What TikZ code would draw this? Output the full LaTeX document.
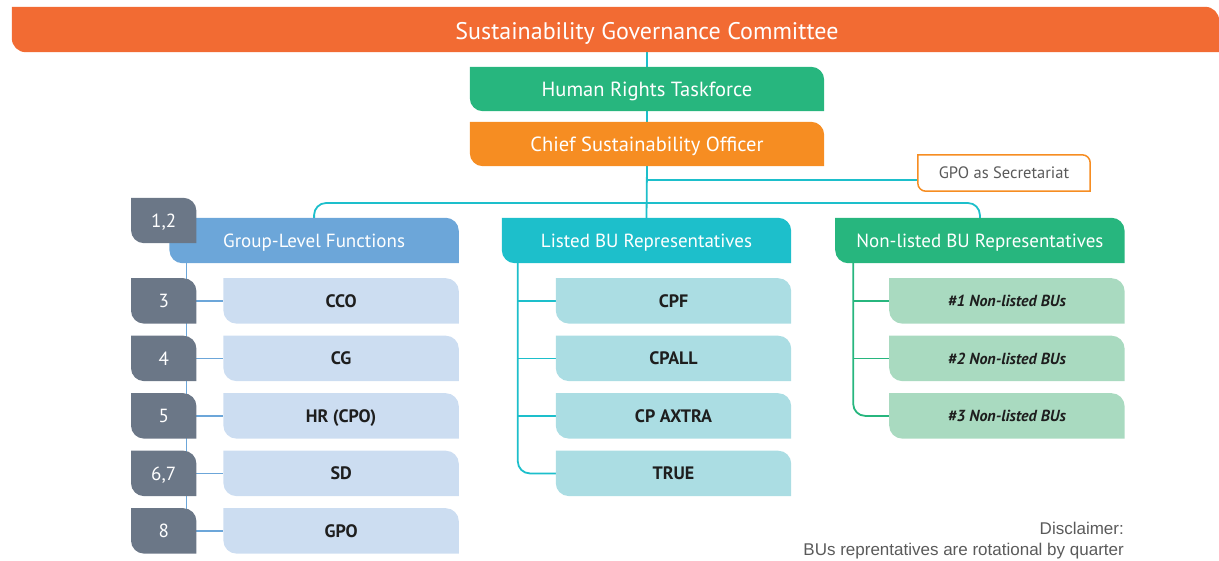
\documentclass[tikz,border=0pt]{standalone}
\usepackage{fontspec}
\setmainfont{PT Sans}
\newfontfamily\notefont{Liberation Sans}
\usetikzlibrary{calc,positioning,backgrounds}

\definecolor{sgcorange}{HTML}{F26B33}
\definecolor{taskgreen}{HTML}{27B67E}
\definecolor{csoorange}{HTML}{F68D22}
\definecolor{grpblue}{HTML}{6CA6D9}
\definecolor{grplight}{HTML}{CCDDF1}
\definecolor{lstteal}{HTML}{1DBFCB}
\definecolor{lstlight}{HTML}{ABDDE3}
\definecolor{nllight}{HTML}{A9DAC0}
\definecolor{badgegray}{HTML}{6B7787}
\definecolor{textdark}{HTML}{1E1E1E}
\definecolor{notegray}{HTML}{5A5A5A}

% box with rounded top right and bottom left corners
\newcommand{\leaf}[3][13]{%
  \fill[#3] (#2.north west) -- ([xshift=-#1pt]#2.north east)
    arc[start angle=90,end angle=0,radius=#1pt] -- (#2.south east)
    -- ([xshift=#1pt]#2.south west)
    arc[start angle=270,end angle=180,radius=#1pt] -- cycle;}

\begin{document}
\begin{tikzpicture}[x=1pt, y=1pt,
    caps/.style={text height=#1, text depth=0pt},
    box/.style={caps=13.3pt, minimum width=289pt, minimum height=45pt, inner sep=0pt,
      text=white, font=\fontsize{19}{22}\selectfont},
    kid/.style={caps=12.6pt, minimum width=235pt, minimum height=45pt, inner sep=0pt,
      text=textdark, font=\fontsize{18}{21}\selectfont\bfseries},
    badge/.style={caps=13.3pt, minimum width=65pt, minimum height=45pt, inner sep=0pt,
      text=white, font=\fontsize{19}{22}\selectfont},
    link/.style={line width=1.8pt, lstteal}]
                \useasboundingbox (0,0) rectangle (1219,-560);
                % top of the tree
                \node[minimum width=1207pt, minimum height=45pt, inner sep=0pt] (sgc) at (615.5,-29.5) {};
                \node[caps=16.8pt, text=white, font=\fontsize{24}{28}\selectfont] (sgctitle) at (647,-31) {Sustainability Governance Committee};
                \node[box, caps=14.4pt, minimum width=354pt, minimum height=44pt, font=\fontsize{20.5}{24}\selectfont] (hrt) at (647,-89) {Human Rights Taskforce};
                \node[box, caps=14.4pt, minimum width=354pt, minimum height=44pt, font=\fontsize{20.5}{24}\selectfont] (cso) at (647,-144) {Chief Sustainability Officer};
                \node[caps=11.6pt, minimum width=172pt, minimum height=36pt, inner sep=0pt, text=notegray,
                  font=\fontsize{16.5}{19}\selectfont] (gpo) at (1004,-173) {GPO as Secretariat};
                \coordinate (gpolink) at ([yshift=-7pt]gpo.west);
                % three branches
                \node[box] (lst) at (646.5,-240.5) {Listed BU Representatives};
                \node[box, left=43pt of lst] (grp) {Group-Level Functions};
                \node[box, right=44pt of lst] (nl) {Non-listed BU Representatives};
                \node[badge, anchor=north east] (b12) at ([xshift=27pt,yshift=20pt]grp.north west) {1,2};
                \foreach \n/\t/\b [count=\i] in {cco/CCO/3, cg/CG/4, hr/HR (CPO)/5, sd/SD/{6,7}, gpof/GPO/8}
                {
                \node[kid, anchor=north east] (\n) at ([yshift={-15pt-57.5pt*(\i-1)}]grp.south east) {\t};
                \node[badge, left=27pt of \n] (b\n) {\b};
                }
                \foreach \n/\t [count=\i] in {cpf/CPF, cpall/CPALL, axtra/CP AXTRA, true/TRUE}
                {
                \node[kid, anchor=north east] (\n) at ([yshift={-15pt-57.5pt*(\i-1)}]lst.south east) {\t};
                }
                \foreach \i in {1,2,3}
                {
                \node[kid, caps=11.2pt, anchor=north east, font=\fontsize{16}{19}\selectfont\bfseries\itshape] (nl\i) at ([yshift={-15pt-57.5pt*(\i-1)}]nl.south east) {\#\i\ Non-listed BUs};
                }
                \node[align=right, anchor=south east, text=notegray, font=\fontsize{17}{21}\notefont, inner sep=0pt] (note) at (1124,-559)
                  {Disclaimer:\\BUs reprentatives are rotational by quarter};
                \coordinate (branchy) at (0,-203);
                \coordinate (grptrunk) at ([xshift=17pt]grp.south west);
                \coordinate (lsttrunk) at ([xshift=16pt]lst.south west);
                \coordinate (nltrunk) at ([xshift=18pt]nl.south west);
                \begin{pgfonlayer}{background}
                % connectors first, boxes on top
                \draw[link] (sgctitle |- sgc.south) -- (hrt.north);
                \draw[link] (hrt.south) -- (cso.north);
                \draw[link] (cso.south) -- (lst.north);
                \draw[link] (cso.south |- gpolink) -- (gpolink);
                \draw[link, rounded corners=12pt] (grp.north) -- (grp.north |- branchy) -- (nl.north |- branchy) -- (nl.north);
                \draw[link, grpblue] (grptrunk) -- (grptrunk |- bgpof);
                \foreach \n in {cco,cg,hr,sd,gpof}
                {\draw[link, grpblue] (b\n.east) -- (\n.west);}
                \draw[link, rounded corners=12pt] (lsttrunk) |- (true.west);
                \foreach \n in {cpf,cpall,axtra}
                {\draw[link] (lsttrunk |- \n.west) -- (\n.west);}
                \draw[link, taskgreen, rounded corners=12pt] (nltrunk) |- (nl3.west);
                \foreach \i in {1,2}
                {\draw[link, taskgreen] (nltrunk |- nl\i.west) -- (nl\i.west);}
                % boxes
                \leaf[14]{sgc}{sgcorange}
                \leaf{hrt}{taskgreen}
                \leaf{cso}{csoorange}
                \leaf[8]{gpo}{white, draw=csoorange, line width=1.5pt}
                \leaf{grp}{grpblue}
                \leaf{lst}{lstteal}
                \leaf{nl}{taskgreen}
                \leaf{b12}{badgegray}
                \foreach \n in {cco,cg,hr,sd,gpof}
                {
                \leaf{\n}{grplight}
                \leaf{b\n}{badgegray}
                }
                \foreach \n in {cpf,cpall,axtra,true}
                {\leaf{\n}{lstlight}}
                \foreach \i in {1,2,3}
                {\leaf{nl\i}{nllight}}
                \end{pgfonlayer}
            \end{tikzpicture}
\end{document}
